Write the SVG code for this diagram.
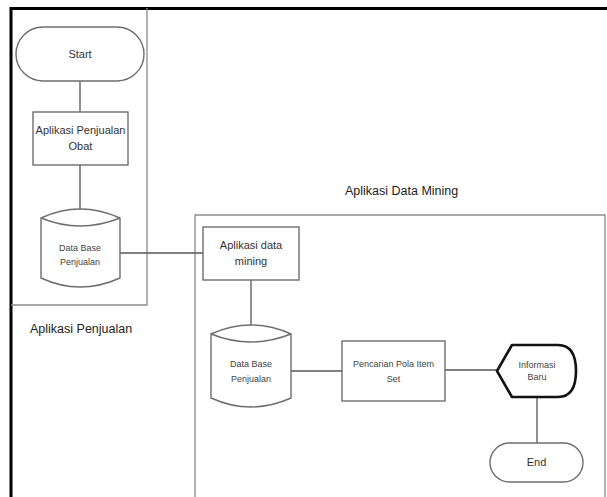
<svg xmlns="http://www.w3.org/2000/svg" width="607" height="497" viewBox="0 0 607 497">
<style>
.shape{fill:#fff;stroke:#6e6e6e;stroke-width:1.4}
.lane{fill:none;stroke:#8a8a8a;stroke-width:1.3}
.conn{fill:none;stroke:#555;stroke-width:1.3}
.t{font-family:"Liberation Sans",Arial,sans-serif;font-size:11px;fill:#333;text-anchor:middle}
.ts{font-family:"Liberation Sans",Arial,sans-serif;font-size:9px;fill:#444;text-anchor:middle}
.lbl{font-family:"Liberation Sans",Arial,sans-serif;font-size:12.5px;fill:#222}
</style>
<rect width="607" height="497" fill="#fff"/>
<g id="frame">
<path d="M11,497 V8.5 H607" fill="none" stroke="#000" stroke-width="3"/>
</g>
<g id="lane-penjualan">
<path class="lane" d="M11,305 H147 V8"/>
<text class="lbl" x="30" y="333">Aplikasi Penjualan</text>
</g>
<g id="lane-datamining">
<path class="lane" d="M195,497 V215 H605 V497"/>
<text class="lbl" x="345" y="195">Aplikasi Data Mining</text>
</g>
<g id="connectors">
<line class="conn" x1="80" y1="81" x2="80" y2="112"/>
<line class="conn" x1="80" y1="165" x2="80" y2="210"/>
<line class="conn" x1="120" y1="253" x2="203" y2="253"/>
<line class="conn" x1="251" y1="280" x2="251" y2="327"/>
<line class="conn" x1="291" y1="371" x2="342" y2="371"/>
<line class="conn" x1="445" y1="370" x2="497" y2="370"/>
<line class="conn" x1="537" y1="397" x2="537" y2="443"/>
</g>
<g id="start">
<rect class="shape" x="16" y="27" width="128" height="54" rx="27"/>
<text class="t" x="80" y="58">Start</text>
</g>
<g id="aplikasi-penjualan-obat">
<rect class="shape" x="33" y="112" width="95" height="53"/>
<text class="t" x="80.5" y="134">Aplikasi Penjualan</text>
<text class="t" x="80.5" y="150">Obat</text>
</g>
<g id="db-penjualan-1">
<path class="shape" d="M41,218 Q80,200 120,218 V278 Q80,296 41,278 Z"/>
<path class="shape" d="M41,218 Q80,234 120,218" fill="none"/>
<text class="ts" x="80" y="251">Data Base</text>
<text class="ts" x="80" y="265">Penjualan</text>
</g>
<g id="aplikasi-data-mining">
<rect class="shape" x="203" y="227" width="96" height="53"/>
<text class="t" x="251" y="249">Aplikasi data</text>
<text class="t" x="251" y="265">mining</text>
</g>
<g id="db-penjualan-2">
<path class="shape" d="M211,334 Q251,316 291,334 V398 Q251,416 211,398 Z"/>
<path class="shape" d="M211,334 Q251,350 291,334" fill="none"/>
<text class="ts" x="251" y="367">Data Base</text>
<text class="ts" x="251" y="382">Penjualan</text>
</g>
<g id="pencarian-pola">
<rect class="shape" x="342" y="341" width="103" height="60"/>
<text class="ts" x="393.5" y="367">Pencarian Pola Item</text>
<text class="ts" x="393.5" y="382">Set</text>
</g>
<g id="informasi-baru">
<path d="M497,371 L512,345 H558 Q576,345 576,371 Q576,397 558,397 H512 Z" fill="#fff" stroke="#111" stroke-width="2.6" stroke-linejoin="round"/>
<text class="ts" x="537" y="368" font-size="8">Informasi</text>
<text class="ts" x="537" y="380" font-size="8">Baru</text>
</g>
<g id="end">
<rect class="shape" x="490" y="443" width="93" height="39" rx="19.5"/>
<text class="t" x="536.5" y="466">End</text>
</g>
</svg>
